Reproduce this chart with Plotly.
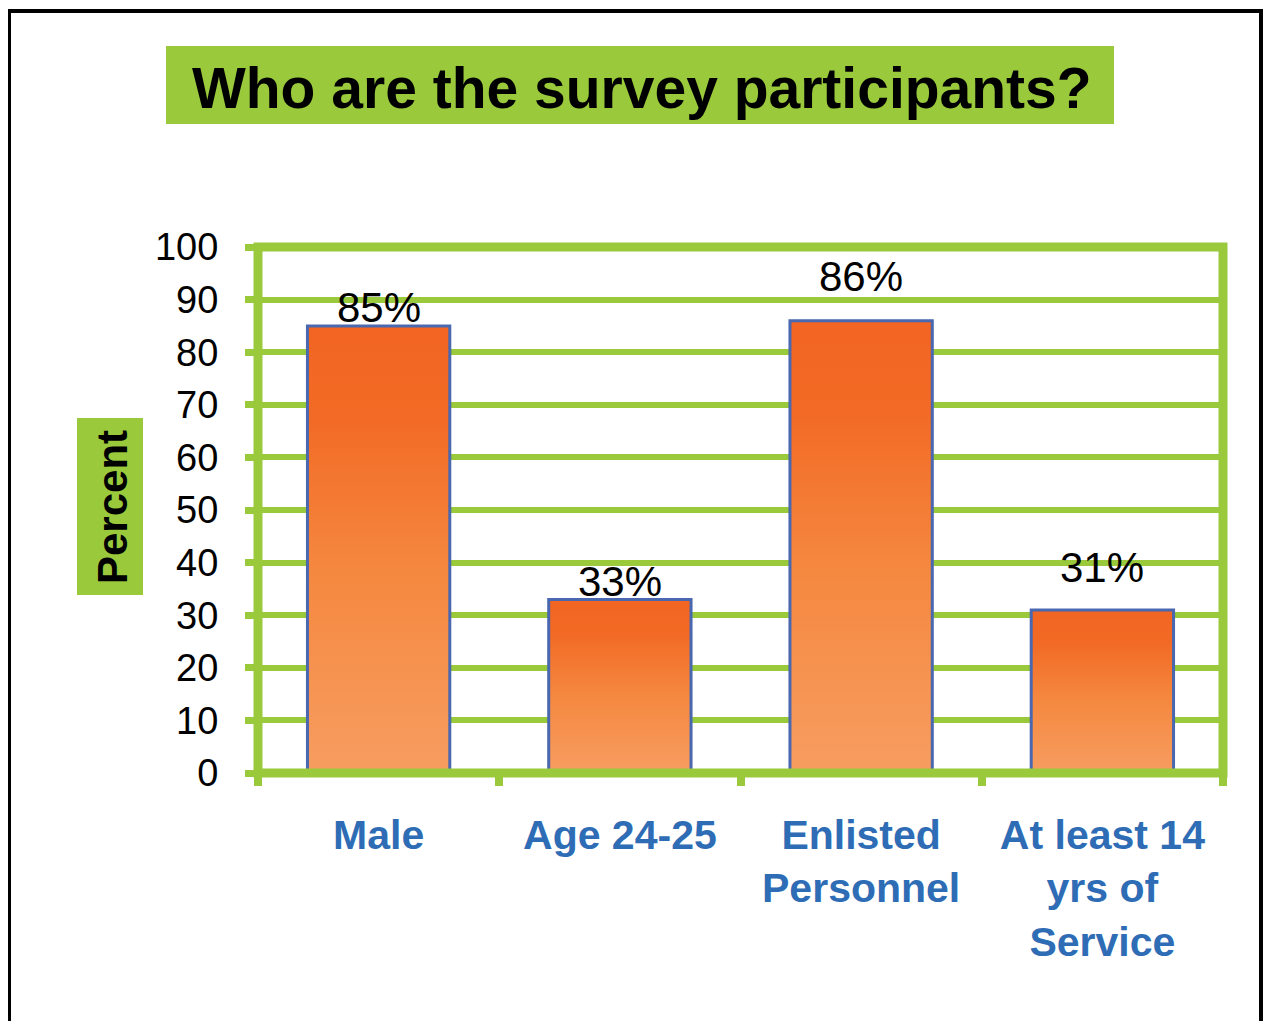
import plotly.graph_objects as go

# ---- data ----
categories = ["Male", "Age 24-25", "Enlisted<br>Personnel", "At least 14<br>yrs of<br>Service"]
percent_values = [85, 33, 86, 31]
value_labels = ["85%", "33%", "86%", "31%"]
y_ticks = [0, 10, 20, 30, 40, 50, 60, 70, 80, 90, 100]

# ---- style ----
OFF = 8  # page body margin
FIG_W, FIG_H = 1273 - 2 * OFF, 1029 - 2 * OFF
S_L, S_R, S_T, S_B = 258, 1223, 247, 773  # plot area in screen px
L = S_L - OFF
R = FIG_W - (S_R - OFF)
T = S_T - OFF
B = FIG_H - (S_B - OFF)
PW, PH = FIG_W - L - R, FIG_H - T - B
GREEN = "#9ACA3C"
BLUE_TXT = "#2E6DB5"
BAR_EDGE = "#4A68B0"
FONT = "Arial, Liberation Sans, sans-serif"
BAR_HALF = 0.295
label_shift = [18, 18, 44, 42]


def px(x):
    return (x - S_L) / PW


def py(y):
    return (S_B - y) / PH


fig = go.Figure()

positions = list(range(len(categories)))
for i, v in zip(positions, percent_values):
    xs = [i - BAR_HALF, i + BAR_HALF, i + BAR_HALF, i - BAR_HALF, i - BAR_HALF]
    ys = [0, 0, v, v, 0]
    fig.add_trace(go.Scatter(
        x=xs, y=ys, mode="lines", fill="toself",
        line=dict(color=BAR_EDGE, width=3),
        fillgradient=dict(type="vertical", start=0, stop=v,
                          colorscale=[[0, "#F79D61"], [0.45, "#F5883F"],
                                      [0.8, "#F26A25"], [1, "#F26522"]]),
        hoverinfo="skip", showlegend=False, xaxis="x", yaxis="y"))

# invisible trace for boundary tick axis
fig.add_trace(go.Scatter(x=[-0.5, 3.5], y=[0, 0], mode="markers",
                         marker=dict(opacity=0), showlegend=False,
                         hoverinfo="skip", xaxis="x2", yaxis="y"))

for i, v, lab, s in zip(positions, percent_values, value_labels, label_shift):
    fig.add_annotation(x=i, y=v, text=lab, showarrow=False, yanchor="middle",
                       yshift=s, font=dict(family=FONT, size=42, color="black"))

# plot frame (centered on plot edges)
fig.add_shape(type="rect", xref="paper", yref="paper", x0=0, x1=1, y0=0, y1=1,
              line=dict(color=GREEN, width=9), fillcolor="rgba(0,0,0,0)", layer="above")

# Title box
fig.add_shape(type="rect", xref="paper", yref="paper",
              x0=px(166), x1=px(1114), y0=py(124), y1=py(46),
              fillcolor=GREEN, line=dict(width=0), layer="below")
fig.add_annotation(xref="paper", yref="paper", x=px(642), y=py(88),
                   text="<b>Who are the survey participants?</b>", showarrow=False,
                   xanchor="center", yanchor="middle",
                   font=dict(family=FONT, size=57, color="black"))

# Y title box
fig.add_shape(type="rect", xref="paper", yref="paper",
              x0=px(77), x1=px(143), y0=py(595), y1=py(418),
              fillcolor=GREEN, line=dict(width=0), layer="below")
fig.add_annotation(xref="paper", yref="paper", x=px(112), y=py(507),
                   text="<b>Percent</b>", showarrow=False, textangle=-90,
                   xanchor="center", yanchor="middle",
                   font=dict(family=FONT, size=42, color="black"))

# Outer black frame
fig.add_shape(type="rect", xref="paper", yref="paper",
              x0=px(9), x1=px(1261), y0=py(1060), y1=py(11),
              line=dict(color="black", width=4), fillcolor="rgba(0,0,0,0)", layer="below")

fig.update_layout(
    width=FIG_W, height=FIG_H,
    margin=dict(l=L, r=R, t=T, b=B),
    paper_bgcolor="white", plot_bgcolor="white",
    showlegend=False,
    xaxis=dict(range=[-0.5, 3.5], tickvals=positions,
               ticktext=["<b>%s</b>" % c for c in categories],
               ticks="", showgrid=False, zeroline=False, showline=False,
               tickfont=dict(family=FONT, size=41, color=BLUE_TXT),
               ticklabelstandoff=34, fixedrange=True),
    xaxis2=dict(range=[-0.5, 3.5], overlaying="x", matches="x", side="bottom",
                anchor="y", tickvals=[-0.5, 0.5, 1.5, 2.5, 3.5],
                showticklabels=False, ticks="outside", ticklen=12, tickwidth=8,
                tickcolor=GREEN, showgrid=False, zeroline=False, showline=False),
    yaxis=dict(range=[0, 100], tickvals=y_ticks, ticks="outside", ticklen=12,
               tickwidth=7, tickcolor=GREEN, showgrid=True, gridcolor=GREEN,
               gridwidth=6, zeroline=False, showline=False, ticklabelstandoff=19,
               tickfont=dict(family=FONT, size=38, color="black"), fixedrange=True),
)

fig.write_html("out.html")
